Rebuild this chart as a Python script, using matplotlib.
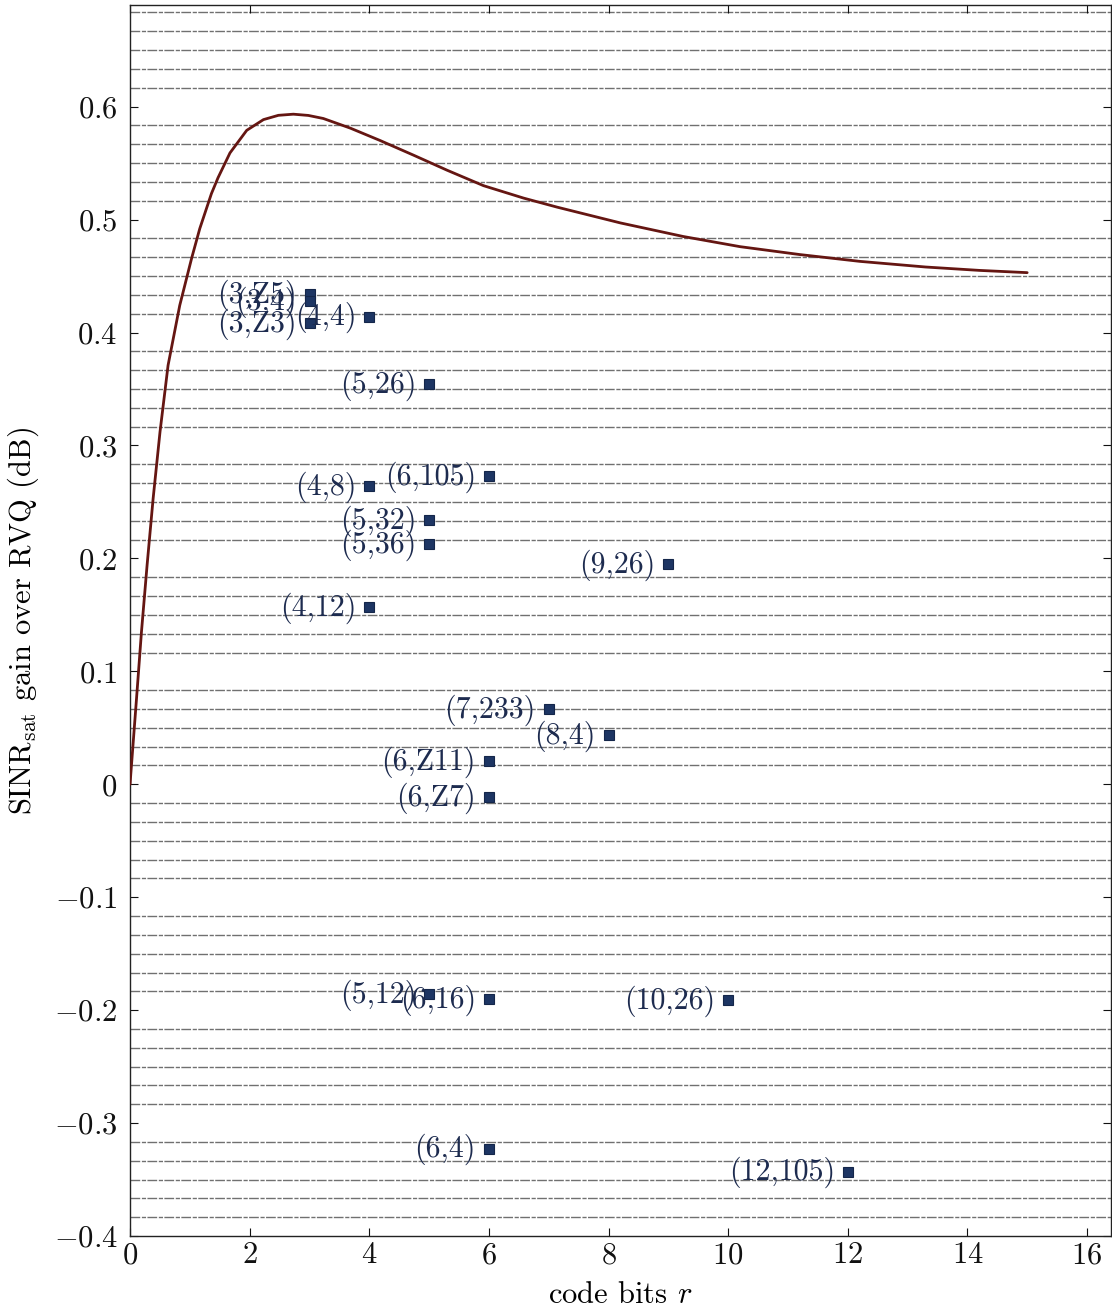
import numpy as np
import matplotlib
matplotlib.use("Agg")
import matplotlib.pyplot as plt
from matplotlib.ticker import FuncFormatter

plt.rcParams["font.family"] = ["cmr10", "DejaVu Serif"]
plt.rcParams["mathtext.fontset"] = "cm"
plt.rcParams["axes.formatter.use_mathtext"] = True

# saturation gain curve (code bits r -> SINR gain in dB)
curve_r = [0.0, 0.01, 0.106, 0.19, 0.284, 0.385, 0.50, 0.635, 0.83, 1.03, 1.165,
           1.36, 1.47, 1.67, 1.95, 2.23, 2.48, 2.73, 2.98, 3.23, 3.68, 4.18,
           4.74, 5.30, 5.91, 6.58, 7.14, 8.2, 9.25, 10.2, 11.2, 12.2, 13.3,
           14.2, 15.0]
curve_gain = [0.0, 0.008, 0.075, 0.135, 0.194, 0.253, 0.312, 0.371, 0.424,
              0.466, 0.492, 0.523, 0.537, 0.559, 0.579, 0.5885, 0.5923, 0.5933,
              0.5922, 0.5895, 0.581, 0.570, 0.557, 0.5437, 0.530, 0.519, 0.511,
              0.497, 0.485, 0.476, 0.469, 0.463, 0.458, 0.455, 0.453]

# individual codes: (bits, label, gain)
code_bits = [3, 3, 3, 4, 5, 4, 6, 5, 5, 9, 4, 7, 8, 6, 6, 5, 6, 10, 6, 12]
code_names = ["(3,Z5)", "(3,4)", "(3,Z3)", "(4,4)", "(5,26)", "(4,8)", "(6,105)",
              "(5,32)", "(5,36)", "(9,26)", "(4,12)", "(7,233)", "(8,4)",
              "(6,Z11)", "(6,Z7)", "(5,12)", "(6,16)", "(10,26)", "(6,4)",
              "(12,105)"]
code_gain = [0.434, 0.428, 0.408, 0.414, 0.354, 0.264, 0.273, 0.234, 0.2125,
             0.195, 0.157, 0.0667, 0.0436, 0.0204, -0.0116, -0.186, -0.190,
             -0.191, -0.3227, -0.343]

y_ticks = [-0.4, -0.3, -0.2, -0.1, 0, 0.1, 0.2, 0.3, 0.4, 0.5, 0.6]
x_ticks = [0, 2, 4, 6, 8, 10, 12, 14, 16]

fig = plt.figure(figsize=(11.12, 13.08), dpi=100)
ax = fig.add_axes([0.117, 0.055, 0.882, 0.9412])
ax.set_xlim(0, 16.4)
ax.set_ylim(-0.4, 0.69)

# ruled background lines between the major ticks
step = 0.1 / 6
for k in range(-23, 42):
    if k % 6 == 0:
        continue
    ax.axhline(k * step, color="#404040", lw=1.0, ls=(0, (7, 1.2, 3, 1)),
               alpha=0.75, zorder=1)

ax.plot(curve_r, curve_gain, color="#651612", lw=2.0, zorder=3,
        solid_capstyle="round", solid_joinstyle="round")

ax.plot(code_bits, code_gain, ls="none", marker="s", ms=7.2,
        mfc="#1d3563", mec="#14264a", mew=0.8, zorder=4)
for r, name, g in zip(code_bits, code_names, code_gain):
    ax.annotate(name, (r, g), xytext=(-13, -1), textcoords="offset pixels",
                ha="right", va="center", fontsize=21.5, color="#1d2b4f",
                zorder=5)

ax.set_xticks(x_ticks)
ax.set_yticks(y_ticks)
tick_fmt = FuncFormatter(lambda v, pos: "$%g$" % round(v, 2))
ax.xaxis.set_major_formatter(tick_fmt)
ax.yaxis.set_major_formatter(tick_fmt)
ax.tick_params(direction="in", length=6, width=0.8, top=True, right=True,
               labelsize=22, colors="#111111")
ax.tick_params(axis="y", pad=9)
ax.tick_params(axis="x", pad=4)
for s in ax.spines.values():
    s.set_linewidth(1.0)
    s.set_color("#222222")

ax.set_xlabel("code bits $r$", fontsize=22, labelpad=9)
ax.set_ylabel(r"SINR$_{\mathrm{sat}}$ gain over RVQ (dB)", fontsize=22,
              labelpad=9)

fig.savefig("out.png", dpi=100)
